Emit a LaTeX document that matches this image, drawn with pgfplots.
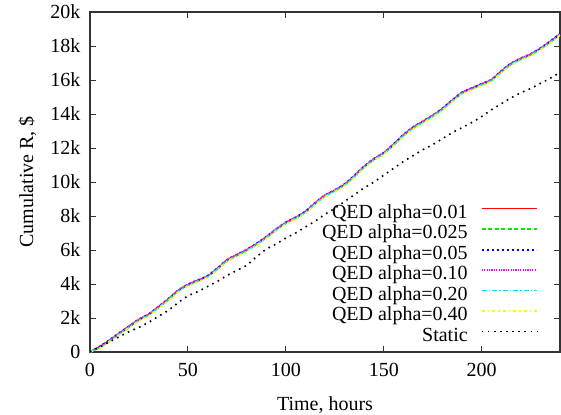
\documentclass[border=0pt]{standalone}
\usepackage{fontspec}
\setmainfont{Liberation Serif}
\usepackage{pgfplots}
\pgfplotsset{compat=1.18}
\usepackage{pgfplotstable}

\definecolor{gpred}{RGB}{255,0,0}
\definecolor{gpgreen}{RGB}{0,235,0}
\definecolor{gpblue}{RGB}{0,0,255}
\definecolor{gpmag}{RGB}{255,0,255}
\definecolor{gpcyan}{RGB}{0,235,235}
\definecolor{gpyel}{RGB}{250,250,0}

% h = hours, r..y = QED alpha 0.01 .. 0.40, s = static
\pgfplotstableread{
h   r     g     b     m     c     y     s
0   0     0     0     0     0     0     0
5   300   280   320   330   260   220   300
10  680   660   700   710   640   600   600
15  1100  1080  1120  1130  1060  1020  900
20  1500  1480  1520  1530  1460  1420  1200
25  1900  1880  1920  1930  1860  1820  1450
30  2200  2180  2220  2230  2160  2120  1750
35  2650  2630  2670  2680  2610  2570  2100
40  3100  3080  3120  3130  3060  3020  2450
45  3600  3580  3620  3630  3560  3520  2900
50  3950  3930  3970  3980  3910  3870  3300
55  4200  4180  4220  4230  4160  4120  3550
60  4450  4430  4470  4480  4410  4370  3850
65  4900  4880  4920  4930  4860  4820  4150
70  5400  5380  5420  5430  5360  5320  4500
75  5700  5680  5720  5730  5660  5620  4800
80  6000  5980  6020  6030  5960  5920  5100
85  6350  6330  6370  6380  6310  6270  5600
90  6750  6730  6770  6780  6710  6670  6050
95  7200  7180  7220  7230  7160  7120  6350
100 7600  7580  7620  7630  7560  7520  6700
105 7900  7880  7920  7930  7860  7820  7000
110 8250  8230  8270  8280  8210  8170  7350
115 8750  8730  8770  8780  8710  8670  7700
120 9200  9180  9220  9230  9160  9120  8100
125 9500  9480  9520  9530  9460  9420  8450
130 9850  9830  9870  9880  9810  9770  8850
135 10350 10330 10370 10380 10310 10270 9250
140 10900 10880 10920 10930 10860 10820 9650
145 11350 11330 11370 11380 11310 11270 10000
150 11700 11680 11720 11730 11660 11620 10400
155 12200 12180 12220 12230 12160 12120 10800
160 12750 12730 12770 12780 12710 12670 11200
165 13200 13180 13220 13230 13160 13120 11550
170 13550 13530 13570 13580 13510 13470 11900
175 13900 13880 13920 13930 13860 13820 12200
180 14300 14280 14320 14330 14260 14220 12550
185 14800 14780 14820 14830 14760 14720 12900
190 15250 15230 15270 15280 15210 15170 13200
195 15500 15480 15520 15530 15460 15420 13500
200 15750 15730 15770 15780 15710 15670 13850
205 16000 15980 16020 16030 15960 15920 14250
210 16500 16480 16520 16530 16460 16420 14600
215 16950 16930 16970 16980 16910 16870 14950
220 17250 17230 17270 17280 17210 17170 15250
225 17500 17480 17520 17530 17460 17420 15500
230 17850 17830 17870 17880 17810 17770 15800
235 18250 18230 18270 18280 18210 18170 16100
240 18700 18680 18720 18730 18660 18620 16450
}\cumr

\begin{document}
\begin{tikzpicture}
\path[use as bounding box] (-90bp,-63bp) rectangle (471bp,352bp);
\begin{axis}[
  scale only axis, width=470bp, height=340bp,
  at={(0,0)}, anchor=south west,
  xmin=0, xmax=240, ymin=0, ymax=20000,
  xtick={0,50,100,150,200},
  ytick={0,2000,4000,6000,8000,10000,12000,14000,16000,18000,20000},
  yticklabels={0,2k,4k,6k,8k,10k,12k,14k,16k,18k,20k},
  scaled y ticks=false,
  tick align=inside, tick pos=both,
  xticklabel pos=lower, yticklabel pos=left,
  major tick length=6bp,
  tick style={black!80, line width=0.9bp},
  axis line style={black!80, line width=1.3bp},
  font=\fontsize{20bp}{24bp}\selectfont,
  tick label style={font=\fontsize{20bp}{24bp}\selectfont},
  /pgf/number format/assume math mode=true,
  yticklabel style={xshift=-6bp},
  xticklabel style={yshift=-8bp},
  xlabel={Time, hours},
  ylabel={Cumulative R, \$},
  xlabel style={at={(axis description cs:0.5,-0.171)}, anchor=base},
  ylabel style={at={(axis description cs:-0.121,0.5)}, anchor=base},
  legend plot pos=right,
  legend cell align=right,
  legend image code/.code={\draw[#1] (0bp,6bp) -- (55bp,6bp);},
  legend style={at={(0.953,0.435)}, anchor=north east, draw=none, fill=none,
    inner sep=0pt, row sep=0pt, column sep=13bp,
    nodes={inner sep=0pt, text height=14bp, text depth=6.5bp}},
  every axis plot/.append style={line width=1.6bp, smooth, tension=0.4},
]
\addplot[gpred, no marks] table[x=h, y=r] {\cumr};
\addplot[gpgreen, no marks, dash pattern=on 4bp off 2.5bp] table[x=h, y=g] {\cumr};
\addplot[draw=gpblue, no marks, line width=2bp, dash pattern=on 2bp off 3bp] table[x=h, y=b] {\cumr};
\addplot[gpmag, no marks, dash pattern=on 1.2bp off 1.2bp] table[x=h, y=m] {\cumr};
\addplot[gpcyan, no marks, dash pattern=on 5bp off 2bp on 1.5bp off 2bp] table[x=h, y=c] {\cumr};
\addplot[gpyel, no marks, dash pattern=on 3bp off 3bp on 1.5bp off 3bp] table[x=h, y=y] {\cumr};
\addplot[black, no marks, dash pattern=on 1.6bp off 4.5bp] table[x=h, y=s] {\cumr};
\legend{QED alpha=0.01, QED alpha=0.025, QED alpha=0.05, QED alpha=0.10, QED alpha=0.20, QED alpha=0.40, Static}
\end{axis}
\end{tikzpicture}
\end{document}
